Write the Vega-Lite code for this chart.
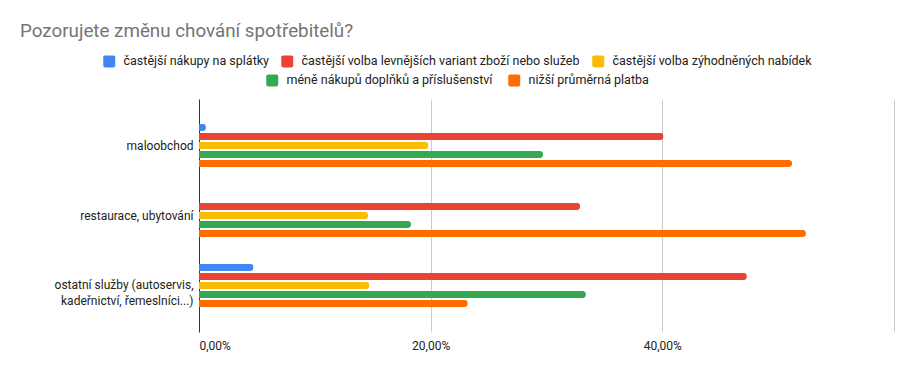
{
  "$schema": "https://vega.github.io/schema/vega-lite/v6.json",
  "autosize": "none",
  "width": 695,
  "height": 233,
  "padding": {"left": 199, "top": 99, "right": 19, "bottom": 39},
  "background": "white",
  "title": {
    "text": "Pozorujete změnu chování spotřebitelů?",
    "anchor": "start",
    "frame": "group",
    "dx": -179,
    "offset": 14,
    "font": "Roboto",
    "fontSize": 18.8,
    "fontWeight": "normal",
    "color": "#757575"
  },
  "data": {
    "values": [
      {"kategorie": "maloobchod", "serie": "častější nákupy na splátky", "podil": 0.006},
      {"kategorie": "maloobchod", "serie": "častější volba levnějších variant zboží nebo služeb", "podil": 0.401},
      {"kategorie": "maloobchod", "serie": "častější volba zýhodněných nabídek", "podil": 0.198},
      {"kategorie": "maloobchod", "serie": "méně nákupů doplňků a příslušenství", "podil": 0.297},
      {"kategorie": "maloobchod", "serie": "nižší průměrná platba", "podil": 0.512},
      {"kategorie": "restaurace, ubytování", "serie": "častější nákupy na splátky", "podil": 0},
      {"kategorie": "restaurace, ubytování", "serie": "častější volba levnějších variant zboží nebo služeb", "podil": 0.329},
      {"kategorie": "restaurace, ubytování", "serie": "častější volba zýhodněných nabídek", "podil": 0.146},
      {"kategorie": "restaurace, ubytování", "serie": "méně nákupů doplňků a příslušenství", "podil": 0.183},
      {"kategorie": "restaurace, ubytování", "serie": "nižší průměrná platba", "podil": 0.524},
      {"kategorie": "ostatní služby (autoservis, kadeřnictví, řemeslníci...)", "serie": "častější nákupy na splátky", "podil": 0.047},
      {"kategorie": "ostatní služby (autoservis, kadeřnictví, řemeslníci...)", "serie": "častější volba levnějších variant zboží nebo služeb", "podil": 0.473},
      {"kategorie": "ostatní služby (autoservis, kadeřnictví, řemeslníci...)", "serie": "častější volba zýhodněných nabídek", "podil": 0.147},
      {"kategorie": "ostatní služby (autoservis, kadeřnictví, řemeslníci...)", "serie": "méně nákupů doplňků a příslušenství", "podil": 0.334},
      {"kategorie": "ostatní služby (autoservis, kadeřnictví, řemeslníci...)", "serie": "nižší průměrná platba", "podil": 0.232}
    ]
  },
  "encoding": {
    "y": {
      "field": "kategorie",
      "type": "nominal",
      "sort": ["maloobchod", "restaurace, ubytování", "ostatní služby (autoservis, kadeřnictví, řemeslníci...)"],
      "scale": {"paddingInner": 0.357, "paddingOuter": 0.343},
      "axis": {
        "title": null,
        "ticks": false,
        "domain": true,
        "domainColor": "#333333",
        "domainWidth": 1,
        "labelFont": "Roboto",
        "labelFontSize": 12,
        "labelColor": "#222222",
        "labelPadding": 6,
        "labelLimit": 300,
        "labelLineHeight": 16,
        "labelExpr": "datum.value == 'ostatní služby (autoservis, kadeřnictví, řemeslníci...)' ? ['ostatní služby (autoservis,', 'kadeřnictví, řemeslníci...)'] : datum.value"
      }
    },
    "yOffset": {
      "field": "serie",
      "type": "nominal",
      "sort": ["častější nákupy na splátky", "častější volba levnějších variant zboží nebo služeb", "častější volba zýhodněných nabídek", "méně nákupů doplňků a příslušenství", "nižší průměrná platba"],
      "scale": {
        "domain": ["častější nákupy na splátky", "častější volba levnějších variant zboží nebo služeb", "častější volba zýhodněných nabídek", "méně nákupů doplňků a příslušenství", "nižší průměrná platba"],
        "paddingInner": 0.22,
        "paddingOuter": 0.1
      }
    },
    "x": {
      "field": "podil",
      "type": "quantitative",
      "scale": {"domain": [0, 0.6], "nice": false},
      "axis": {
        "title": null,
        "values": [0, 0.2, 0.4, 0.6],
        "domain": false,
        "ticks": false,
        "gridColor": "#cccccc",
        "gridWidth": 1,
        "labelFont": "Roboto",
        "labelFontSize": 12,
        "labelColor": "#222222",
        "labelPadding": 8,
        "labelExpr": "datum.value > 0.5 ? '' : replace(format(datum.value, '.2%'), '.', ',')"
      }
    }
  },
  "layer": [
    {
      "transform": [{"filter": "indexof(['častější nákupy na splátky', 'častější volba levnějších variant zboží nebo služeb', 'častější volba zýhodněných nabídek'], datum.serie) >= 0"}],
      "mark": {"type": "bar", "cornerRadiusEnd": 3},
      "encoding": {
        "color": {
          "field": "serie",
          "type": "nominal",
          "scale": {
            "domain": ["častější nákupy na splátky", "častější volba levnějších variant zboží nebo služeb", "častější volba zýhodněných nabídek"],
            "range": ["#4285F4", "#EA4335", "#FBBC04"]
          },
          "legend": {
            "title": null,
            "orient": "none",
            "direction": "horizontal",
            "legendX": -96,
            "legendY": -44,
            "symbolType": "M-1,-0.7Q-1,-1,-0.7,-1L0.7,-1Q1,-1,1,-0.7L1,0.7Q1,1,0.7,1L-0.7,1Q-1,1,-1,0.7Z",
            "symbolSize": 144,
            "symbolStrokeWidth": 0,
            "symbolOpacity": 1,
            "labelFont": "Roboto",
            "labelFontSize": 12.5,
            "labelColor": "#222222",
            "labelOffset": 8,
            "columnPadding": 12,
            "labelLimit": 400
          }
        }
      }
    },
    {
      "transform": [{"filter": "indexof(['méně nákupů doplňků a příslušenství', 'nižší průměrná platba'], datum.serie) >= 0"}],
      "mark": {"type": "bar", "cornerRadiusEnd": 3},
      "encoding": {
        "color": {
          "field": "serie",
          "type": "nominal",
          "scale": {
            "domain": ["méně nákupů doplňků a příslušenství", "nižší průměrná platba"],
            "range": ["#34A853", "#FF6D01"]
          },
          "legend": {
            "title": null,
            "orient": "none",
            "direction": "horizontal",
            "legendX": 67,
            "legendY": -25,
            "symbolType": "M-1,-0.7Q-1,-1,-0.7,-1L0.7,-1Q1,-1,1,-0.7L1,0.7Q1,1,0.7,1L-0.7,1Q-1,1,-1,0.7Z",
            "symbolSize": 144,
            "symbolStrokeWidth": 0,
            "symbolOpacity": 1,
            "labelFont": "Roboto",
            "labelFontSize": 12.5,
            "labelColor": "#222222",
            "labelOffset": 8,
            "columnPadding": 15,
            "labelLimit": 400
          }
        }
      }
    }
  ],
  "resolve": {"scale": {"color": "independent"}},
  "config": {
    "view": {"stroke": null},
    "font": "Roboto"
  }
}
